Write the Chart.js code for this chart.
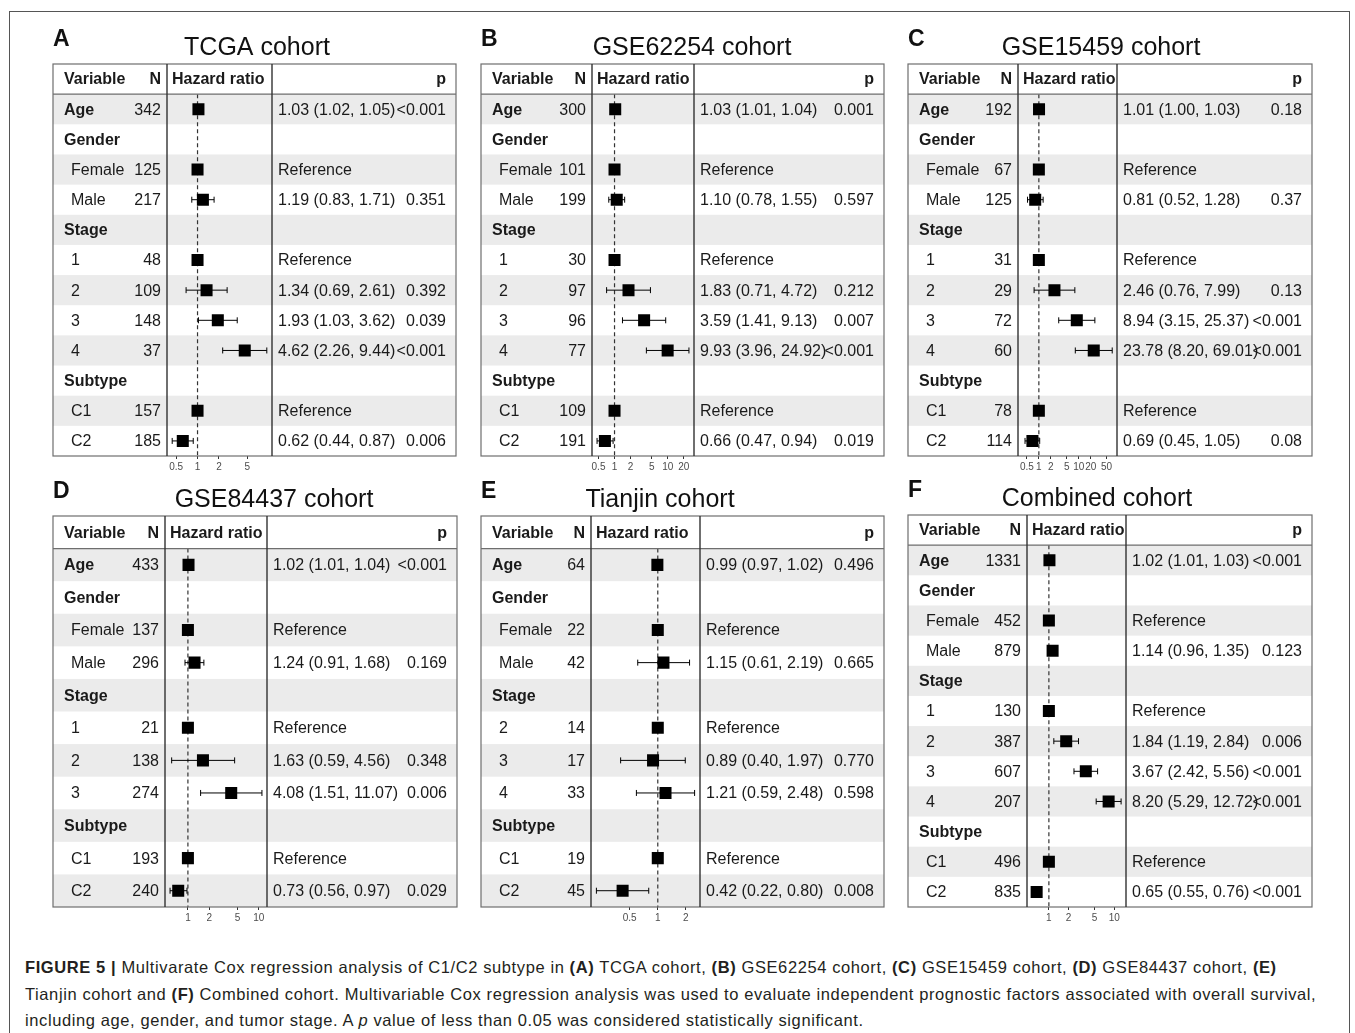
<!DOCTYPE html>
<html>
<head>
<meta charset="utf-8">
<script src="https://cdn.jsdelivr.net/npm/chart.js@4.4.1/dist/chart.umd.min.js"></script>
<style>
  body { margin: 0; background: #fff; width: 1355px; height: 1033px; overflow: hidden; position: relative;
         font-family: "Liberation Sans", Arial, sans-serif; }
  #frame { position: absolute; left: 9px; top: 11px; width: 1339px; height: 1100px; border: 1px solid #555; }
  canvas { position: absolute; }
  #caption { position: absolute; left: 25px; top: 954px; font-size: 16.5px; letter-spacing: 0.6px; line-height: 26.5px; color: #231f20; white-space: nowrap; }
</style>
</head>
<body>
<div id="frame"></div>
<div id="caption">
  <b>FIGURE 5 |</b> Multivarate Cox regression analysis of C1/C2 subtype in <b>(A)</b> TCGA cohort, <b>(B)</b> GSE62254 cohort, <b>(C)</b> GSE15459 cohort, <b>(D)</b> GSE84437 cohort, <b>(E)</b><br>
  Tianjin cohort and <b>(F)</b> Combined cohort. Multivariable Cox regression analysis was used to evaluate independent prognostic factors associated with overall survival,<br>
  including age, gender, and tumor stage. A <i>p</i> value of less than 0.05 was considered statistically significant.
</div>
<script>
// row labels
const rowsFull = ['Age', 'Gender', 'Female', 'Male', 'Stage', '1', '2', '3', '4', 'Subtype', 'C1', 'C2'];
const rowsD = ['Age', 'Gender', 'Female', 'Male', 'Stage', '1', '2', '3', 'Subtype', 'C1', 'C2'];
const rowsE = ['Age', 'Gender', 'Female', 'Male', 'Stage', '2', '3', '4', 'Subtype', 'C1', 'C2'];
const boldRows = ['Age', 'Gender', 'Stage', 'Subtype'];

// A - TCGA
const tcgaN  = [342, null, 125, 217, null, 48, 109, 148, 37, null, 157, 185];
const tcgaHR = [1.03, null, 1, 1.19, null, 1, 1.34, 1.93, 4.62, null, 1, 0.62];
const tcgaLo = [1.02, null, 1, 0.83, null, 1, 0.69, 1.03, 2.26, null, 1, 0.44];
const tcgaHi = [1.05, null, 1, 1.71, null, 1, 2.61, 3.62, 9.44, null, 1, 0.87];
const tcgaP  = ['<0.001', '', '', '0.351', '', '', '0.392', '0.039', '<0.001', '', '', '0.006'];
const tcgaTicks = [0.5, 1, 2, 5];

// B - GSE62254
const g622N  = [300, null, 101, 199, null, 30, 97, 96, 77, null, 109, 191];
const g622HR = [1.03, null, 1, 1.10, null, 1, 1.83, 3.59, 9.93, null, 1, 0.66];
const g622Lo = [1.01, null, 1, 0.78, null, 1, 0.71, 1.41, 3.96, null, 1, 0.47];
const g622Hi = [1.04, null, 1, 1.55, null, 1, 4.72, 9.13, 24.92, null, 1, 0.94];
const g622P  = ['0.001', '', '', '0.597', '', '', '0.212', '0.007', '<0.001', '', '', '0.019'];
const g622Ticks = [0.5, 1, 2, 5, 10, 20];

// C - GSE15459
const g154N  = [192, null, 67, 125, null, 31, 29, 72, 60, null, 78, 114];
const g154HR = [1.01, null, 1, 0.81, null, 1, 2.46, 8.94, 23.78, null, 1, 0.69];
const g154Lo = [1.00, null, 1, 0.52, null, 1, 0.76, 3.15, 8.20, null, 1, 0.45];
const g154Hi = [1.03, null, 1, 1.28, null, 1, 7.99, 25.37, 69.01, null, 1, 1.05];
const g154P  = ['0.18', '', '', '0.37', '', '', '0.13', '<0.001', '<0.001', '', '', '0.08'];
const g154Ticks = [0.5, 1, 2, 5, 10, 20, 50];

// D - GSE84437
const g844N  = [433, null, 137, 296, null, 21, 138, 274, null, 193, 240];
const g844HR = [1.02, null, 1, 1.24, null, 1, 1.63, 4.08, null, 1, 0.73];
const g844Lo = [1.01, null, 1, 0.91, null, 1, 0.59, 1.51, null, 1, 0.56];
const g844Hi = [1.04, null, 1, 1.68, null, 1, 4.56, 11.07, null, 1, 0.97];
const g844P  = ['<0.001', '', '', '0.169', '', '', '0.348', '0.006', '', '', '0.029'];
const g844Ticks = [1, 2, 5, 10];

// E - Tianjin
const tjN  = [64, null, 22, 42, null, 14, 17, 33, null, 19, 45];
const tjHR = [0.99, null, 1, 1.15, null, 1, 0.89, 1.21, null, 1, 0.42];
const tjLo = [0.97, null, 1, 0.61, null, 1, 0.40, 0.59, null, 1, 0.22];
const tjHi = [1.02, null, 1, 2.19, null, 1, 1.97, 2.48, null, 1, 0.80];
const tjP  = ['0.496', '', '', '0.665', '', '', '0.770', '0.598', '', '', '0.008'];
const tjTicks = [0.5, 1, 2];

// F - Combined
const combN  = [1331, null, 452, 879, null, 130, 387, 607, 207, null, 496, 835];
const combHR = [1.02, null, 1, 1.14, null, 1, 1.84, 3.67, 8.20, null, 1, 0.65];
const combLo = [1.01, null, 1, 0.96, null, 1, 1.19, 2.42, 5.29, null, 1, 0.55];
const combHi = [1.03, null, 1, 1.35, null, 1, 2.84, 5.56, 12.72, null, 1, 0.76];
const combP  = ['<0.001', '', '', '0.123', '', '', '0.006', '<0.001', '<0.001', '', '', '<0.001'];
const combTicks = [1, 2, 5, 10];

// layout of each panel on the page (box l,t,r,b and the two column dividers)
const panels = [
  { letter: 'A', title: 'TCGA cohort', rows: rowsFull, n: tcgaN, hr: tcgaHR, lo: tcgaLo, hi: tcgaHi, p: tcgaP, ticks: tcgaTicks,
    box: [53, 64, 456, 456], div: [167, 272], titleX: 257 },
  { letter: 'B', title: 'GSE62254 cohort', rows: rowsFull, n: g622N, hr: g622HR, lo: g622Lo, hi: g622Hi, p: g622P, ticks: g622Ticks,
    box: [481, 64, 884, 456], div: [592, 694], titleX: 692 },
  { letter: 'C', title: 'GSE15459 cohort', rows: rowsFull, n: g154N, hr: g154HR, lo: g154Lo, hi: g154Hi, p: g154P, ticks: g154Ticks,
    box: [908, 64, 1312, 456], div: [1018, 1117], titleX: 1101 },
  { letter: 'D', title: 'GSE84437 cohort', rows: rowsD, n: g844N, hr: g844HR, lo: g844Lo, hi: g844Hi, p: g844P, ticks: g844Ticks,
    box: [53, 516, 457, 907], div: [165, 267], titleX: 274 },
  { letter: 'E', title: 'Tianjin cohort', rows: rowsE, n: tjN, hr: tjHR, lo: tjLo, hi: tjHi, p: tjP, ticks: tjTicks,
    box: [481, 516, 884, 907], div: [591, 700], titleX: 660 },
  { letter: 'F', title: 'Combined cohort', rows: rowsFull, n: combN, hr: combHR, lo: combLo, hi: combHi, p: combP, ticks: combTicks,
    box: [908, 515, 1312, 907], div: [1027, 1126], titleX: 1097 }
];

const FONT = '"Liberation Sans", Arial, sans-serif';
Chart.defaults.font.family = FONT;

// table, stripes, whiskers and borders around the hazard ratio column
const forestTable = {
  id: 'forestTable',
  beforeDatasetsDraw(chart) {
    const o = chart.options.plugins.forestTable;
    const ctx = chart.ctx, ca = chart.chartArea, x = chart.scales.x, y = chart.scales.y;
    const rowH = ca.height / o.rows.length;
    ctx.save();
    ctx.fillStyle = '#ebebeb';
    o.rows.forEach((r, i) => {
      if (i % 2 === 0) ctx.fillRect(o.L, ca.top + i * rowH, o.R - o.L, rowH);
    });
    // reference line at HR = 1
    const x1 = x.getPixelForValue(1);
    ctx.strokeStyle = '#333';
    ctx.lineWidth = 1.2;
    ctx.setLineDash([4, 3]);
    ctx.beginPath();
    ctx.moveTo(x1, ca.top);
    ctx.lineTo(x1, ca.bottom);
    ctx.stroke();
    ctx.setLineDash([]);
    // confidence intervals
    ctx.strokeStyle = '#000';
    ctx.lineWidth = 1;
    o.hr.forEach((v, i) => {
      if (v == null || o.lo[i] === o.hi[i]) return;
      const py = y.getPixelForValue(i);
      const a = x.getPixelForValue(o.lo[i]), b = x.getPixelForValue(o.hi[i]);
      ctx.beginPath();
      ctx.moveTo(a, py); ctx.lineTo(b, py);
      ctx.moveTo(a, py - 3); ctx.lineTo(a, py + 3);
      ctx.moveTo(b, py - 3); ctx.lineTo(b, py + 3);
      ctx.stroke();
    });
    ctx.restore();
  },
  afterDatasetsDraw(chart) {
    const o = chart.options.plugins.forestTable;
    const ctx = chart.ctx, ca = chart.chartArea;
    const rowH = ca.height / o.rows.length;
    const T = ca.top - rowH, B = ca.bottom, L = o.L, R = o.R;
    ctx.save();
    ctx.fillStyle = '#1a1a1a';
    ctx.textBaseline = 'middle';
    // header
    const hy = T + rowH / 2 + 1;
    ctx.font = 'bold 16px ' + FONT;
    ctx.textAlign = 'left';
    ctx.fillText('Variable', L + 11, hy);
    ctx.fillText('Hazard ratio', ca.left + 5, hy);
    ctx.textAlign = 'right';
    ctx.fillText('N', ca.left - 6, hy);
    ctx.fillText('p', R - 10, hy);
    // rows
    o.rows.forEach((r, i) => {
      const ry = ca.top + (i + 0.5) * rowH + 1;
      const bold = boldRows.includes(r);
      ctx.font = (bold ? 'bold ' : '') + '16px ' + FONT;
      ctx.textAlign = 'left';
      ctx.fillText(r, L + (bold ? 11 : 18), ry);
      ctx.font = '16px ' + FONT;
      if (o.n[i] != null) {
        ctx.textAlign = 'right';
        ctx.fillText(String(o.n[i]), ca.left - 6, ry);
      }
      if (o.hr[i] != null) {
        ctx.textAlign = 'left';
        const est = o.lo[i] === o.hi[i] ? 'Reference'
          : o.hr[i].toFixed(2) + ' (' + o.lo[i].toFixed(2) + ', ' + o.hi[i].toFixed(2) + ')';
        ctx.fillText(est, ca.right + 6, ry);
        ctx.textAlign = 'right';
        ctx.fillText(o.p[i], R - 10, ry);
      }
    });
    // borders
    ctx.strokeStyle = '#6e6e6e';
    ctx.lineWidth = 1.2;
    ctx.strokeRect(L, T, R - L, B - T);
    ctx.beginPath();
    ctx.moveTo(L, ca.top); ctx.lineTo(R, ca.top);
    ctx.stroke();
    ctx.strokeStyle = '#333';
    ctx.lineWidth = 1.4;
    ctx.beginPath();
    ctx.moveTo(ca.left, T); ctx.lineTo(ca.left, B);
    ctx.moveTo(ca.right, T); ctx.lineTo(ca.right, B);
    ctx.stroke();
    // title and panel letter
    ctx.textBaseline = 'alphabetic';
    ctx.fillStyle = '#111';
    ctx.font = '25px ' + FONT;
    ctx.textAlign = 'center';
    ctx.fillText(o.title, o.titleX, T - 9);
    ctx.font = 'bold 23px ' + FONT;
    ctx.textAlign = 'left';
    ctx.fillText(o.letter, L, T - 18);
    ctx.restore();
  }
};

panels.forEach(function (pn) {
  const [bl, bt, br, bb] = pn.box;
  const cl = bl - 10, ct = bt - 52;
  const cw = br - bl + 20, ch = bb - bt + 82;
  const canvas = document.createElement('canvas');
  canvas.width = cw;
  canvas.height = ch;
  canvas.style.left = cl + 'px';
  canvas.style.top = ct + 'px';
  canvas.style.width = cw + 'px';
  canvas.style.height = ch + 'px';
  document.body.appendChild(canvas);

  const rowH = (bb - bt) / (pn.rows.length + 1);
  const axisH = 14;

  // x range: data extent plus a small margin on the log scale
  const los = pn.lo.filter(v => v != null), his = pn.hi.filter(v => v != null);
  const lmin = Math.log10(Math.min(1, ...los)), lmax = Math.log10(Math.max(1, ...his));
  const span = lmax - lmin;

  const points = [];
  pn.hr.forEach((v, i) => { if (v != null) points.push({ x: v, y: i }); });

  new Chart(canvas, {
    type: 'scatter',
    data: {
      datasets: [{
        data: points,
        pointStyle: 'rect',
        pointRadius: 8.5,
        backgroundColor: '#000',
        borderWidth: 0
      }]
    },
    options: {
      responsive: false,
      animation: false,
      events: [],
      devicePixelRatio: 1,
      layout: {
        padding: {
          left: pn.div[0] - cl,
          right: cw - (pn.div[1] - cl),
          top: bt - ct + rowH,
          bottom: ch - (bb - ct) - axisH
        }
      },
      scales: {
        x: {
          type: 'logarithmic',
          min: Math.pow(10, lmin - 0.055 * span),
          max: Math.pow(10, lmax + 0.055 * span),
          afterBuildTicks: s => { s.ticks = pn.ticks.map(v => ({ value: v })); },
          afterFit: s => { s.height = axisH; },
          grid: { display: true, drawOnChartArea: false, drawTicks: true, tickLength: 3, tickColor: '#333', tickWidth: 1 },
          border: { display: false },
          ticks: {
            autoSkip: false, maxRotation: 0, padding: 2,
            color: '#4d4d4d', font: { size: 10 },
            callback: v => String(v)
          }
        },
        y: { type: 'linear', display: false, min: -0.5, max: pn.rows.length - 0.5, reverse: true }
      },
      plugins: {
        legend: { display: false },
        tooltip: { enabled: false },
        forestTable: {
          rows: pn.rows, n: pn.n, hr: pn.hr, lo: pn.lo, hi: pn.hi, p: pn.p,
          L: bl - cl, R: br - cl, title: pn.title, titleX: pn.titleX - cl, letter: pn.letter
        }
      }
    },
    plugins: [forestTable]
  });
});
</script>
</body>
</html>
